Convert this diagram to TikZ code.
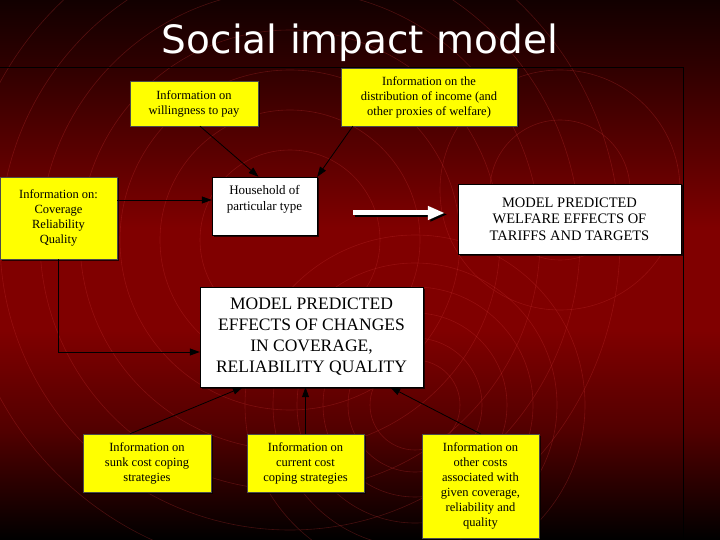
\documentclass[tikz,border=0pt]{standalone}
\usepackage{fontspec}
\setmainfont{Liberation Serif}
\newfontfamily\titlefont{DejaVu Sans}
\usetikzlibrary{arrows.meta,calc,shadows}

\definecolor{bgdark}{HTML}{120000}
\definecolor{bgmid}{HTML}{2C0000}
\definecolor{bgred}{HTML}{800000}
\definecolor{bglow}{HTML}{520000}
\definecolor{ringred}{HTML}{C83232}
\definecolor{boxyellow}{HTML}{FFFF00}

\begin{document}
\begin{tikzpicture}[x=1pt, y=-1pt,
        infobox/.style = {fill = boxyellow, draw = black!70, align = center,
            inner sep = 0pt, font = \fontsize{12.5}{15}\selectfont,
            drop shadow = {shadow xshift = 1.5pt, shadow yshift = -1.5pt, fill = black, opacity = .7}},
        modelbox/.style = {infobox, fill = white, draw = black},
        link/.style = {draw = black, line width = .8pt, -{Triangle[length = 10pt, width = 7pt]}},
        bigarrow/.style = {line width = 5pt, -{Triangle[length = 17pt, width = 13pt]}},
        ring/.style = {draw = ringred, line width = .6pt, opacity = .3}
    ]
    \useasboundingbox (0, 0) rectangle (720, 540);

    % background
    \fill [top color = bgdark, bottom color = bgmid] (0, 0) rectangle (720, 60);
    \fill [top color = bgmid, bottom color = bgred] (0, 60) rectangle (720, 230);
    \fill [bgred] (0, 230) rectangle (720, 330);
    \fill [top color = bgred, bottom color = bglow] (0, 330) rectangle (720, 430);
    \fill [top color = bglow, bottom color = black] (0, 430) rectangle (720, 540);
    \begin{scope}
        \clip (0, 0) rectangle (720, 540);
        \foreach \r in {90, 130, 170, 210, 250, 290, 330}
            \draw [ring] (290, 240) circle [radius = \r];
        \foreach \r in {45, 67, 92, 118, 142, 170}
            \draw [ring] (415, 405) circle [radius = \r];
        \foreach \r in {70, 120}
            \draw [ring] (560, 190) circle [radius = \r];
    \end{scope}
    \draw [black, line width = .9pt] (0, 67) -- (683, 67) -- (683, 540);

    \node (title) at (360, 43) {\titlefont\fontsize{39}{44}\selectfont\color{white}Social impact model};

    % boxes
    \node [infobox, minimum width = 128, minimum height = 45] (pay) at (194, 103.5)
        {Information on\\willingness to pay};
    \node [infobox, minimum width = 176, minimum height = 58] (income) at (429, 97)
        {Information on the\\distribution of income (and\\other proxies of welfare)};
    \node [infobox, minimum width = 117, minimum height = 82] (coverinfo) at (58.5, 218)
        {Information on:\\Coverage\\Reliability\\Quality};
    \node [modelbox, minimum width = 105, minimum height = 58, text depth = 17pt, font = \fontsize{13}{16}\selectfont] (household) at (264.5, 206)
        {Household of\\particular type};
    \node [modelbox, minimum width = 223, minimum height = 70, font = \fontsize{14.5}{16.5}\selectfont] (welfare) at (569.5, 219)
        {MODEL PREDICTED\\WELFARE EFFECTS OF\\TARIFFS AND TARGETS};
    \node [modelbox, minimum width = 223, minimum height = 100, font = \fontsize{17.5}{21}\selectfont] (effects) at (311.5, 337)
        {MODEL PREDICTED\\EFFECTS OF CHANGES\\IN COVERAGE,\\RELIABILITY QUALITY};
    \node [infobox, minimum width = 128, minimum height = 58] (sunk) at (147, 463)
        {Information on\\sunk cost coping\\strategies};
    \node [infobox, minimum width = 117, minimum height = 58] (current) at (305.5, 463)
        {Information on\\current cost\\coping strategies};
    \node [infobox, minimum width = 117, minimum height = 104] (othercost) at (480.5, 486)
        {Information on\\other costs\\associated with\\given coverage,\\reliability and\\quality};

    % connectors
    \draw [link] ($(pay.south) + (6, 0)$) -- ($(household.north) + (-6, 0)$);
    \draw [link] ($(income.south west) + (12, 0)$) -- (household.north east);
    \draw [link] ($(coverinfo.east |- household.west) + (0, -6)$) -- ($(household.west) + (0, -6)$);
    \draw [link] (coverinfo.south) |- ($(effects.west) + (0, 15)$);
    \draw [link] ($(sunk.north) + (-17, 0)$) -- ($(effects.south west) + (43, 0)$);
    \draw [link] (current.north) -- (current.north |- effects.south);
    \draw [link] (othercost.north) -- ($(effects.south east) + (-33, 0)$);

    \coordinate (arrowstart) at (353, 213);
    \draw [bigarrow, black, shorten >= 12pt] ($(arrowstart) + (1.5, 1.5)$) -- ($(arrowstart -| welfare.west) + (1.5, 1.5)$);
    \draw [bigarrow, white, shorten >= 13pt] (arrowstart) -- (arrowstart -| welfare.west);
\end{tikzpicture}
\end{document}
